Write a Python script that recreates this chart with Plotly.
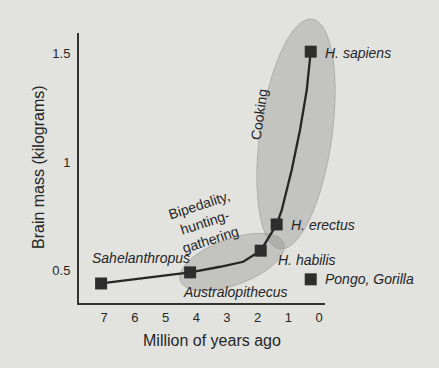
import numpy as np
import plotly.graph_objects as go

# ---- data ----
species = ["Sahelanthropus", "Australopithecus", "H. habilis", "H. erectus", "H. sapiens"]
species_mya = [7.1, 4.2, 1.9, 1.38, 0.27]
species_kg = [0.442, 0.493, 0.593, 0.714, 1.51]

ape_label = ["Pongo, Gorilla"]
ape_mya = [0.27]
ape_kg = [0.461]

# traced path of the connecting curve
path_mya = [7.1, 6.05, 4.2, 3.22, 2.47, 1.9, 1.38, 1.215, 0.89, 0.62, 0.40, 0.27]
path_kg = [0.442, 0.461, 0.493, 0.519, 0.542, 0.593, 0.714, 0.78, 0.965, 1.149, 1.333, 1.51]

x_ticks = [7, 6, 5, 4, 3, 2, 1, 0]
y_ticks = [0.5, 1, 1.5]
y_ticktext = ["0.5", "1", "1.5"]

# ---- layout geometry ----
W, H = 439, 368
ML, MR, MT, MB = 79, 114, 33, 65
XR = [7.82, -0.195]
YR = [0.352, 1.596]
PW, PH = W - ML - MR, H - MT - MB

def d2p(x, y):
    px = ML + (x - XR[0]) / (XR[1] - XR[0]) * PW
    py = MT + PH - (y - YR[0]) / (YR[1] - YR[0]) * PH
    return px, py

def p2d(px, py):
    x = XR[0] + (px - ML) / PW * (XR[1] - XR[0])
    y = YR[0] + (MT + PH - py) / PH * (YR[1] - YR[0])
    return x, y

def p2paper(px, py):
    return (px - ML) / PW, (MT + PH - py) / PH

def ellipse_path(cx, cy, a, b, ang):
    pcx, pcy = d2p(cx, cy)
    th = np.linspace(0, 2 * np.pi, 90)
    r = np.radians(ang)
    ex = a * np.cos(th)
    ey = b * np.sin(th)
    px = pcx + ex * np.cos(r) + ey * np.sin(r)
    py = pcy - ex * np.sin(r) + ey * np.cos(r)
    pts = [p2paper(u, v) for u, v in zip(px, py)]
    return "M " + " L ".join(f"{u:.5f},{v:.5f}" for u, v in pts) + " Z"

BG = "#e2e2df"
INK = "#262626"
FONT = "Liberation Sans, Arial, sans-serif"

fig = go.Figure()

fig.add_trace(go.Scatter(x=path_mya, y=path_kg, mode="lines",
                         line=dict(color=INK, width=2.3), hoverinfo="skip", showlegend=False))
fig.add_trace(go.Scatter(x=species_mya, y=species_kg, mode="markers", text=species,
                         marker=dict(symbol="square", size=12, color="#2e2e2e"), showlegend=False))
fig.add_trace(go.Scatter(x=ape_mya, y=ape_kg, mode="markers", text=ape_label,
                         marker=dict(symbol="square", size=12, color="#2e2e2e"), showlegend=False))

# grey ellipses (paper-referenced so the top of the "cooking" one is not clipped)
cook_c = p2d(296, 134)
bip_c = p2d(232, 262)
for (c, a, b, ang) in [(cook_c, 116, 36, 82), (bip_c, 55, 23, 20)]:
    fig.add_shape(type="path", path=ellipse_path(c[0], c[1], a, b, ang),
                  xref="paper", yref="paper", layer="below",
                  fillcolor="rgba(140,140,138,0.36)", line=dict(color="rgba(150,150,148,0.6)", width=1))

ann_font = dict(family=FONT, size=14, color=INK)
offs = {
    "Sahelanthropus": ("left", -11, 25),
    "Australopithecus": ("center", 45, -20),
    "H. habilis": ("left", 15, -9),
    "H. erectus": ("left", 12, -1),
    "H. sapiens": ("left", 12, -1),
}
for name, x, y in zip(species, species_mya, species_kg):
    xa, xs, ys = offs[name]
    fig.add_annotation(x=x, y=y, text=f"<i>{name}</i>", showarrow=False, xanchor=xa,
                       yanchor="middle", xshift=xs, yshift=ys, font=ann_font)
for name, x, y in zip(ape_label, ape_mya, ape_kg):
    fig.add_annotation(x=x, y=y, text=f"<i>{name}</i>", showarrow=False, xanchor="left",
                       yanchor="middle", xshift=12, yshift=0, font=ann_font)

ck = p2d(259, 115)
fig.add_annotation(x=ck[0], y=ck[1], text="Cooking", showarrow=False, textangle=-82,
                   xanchor="center", yanchor="middle", font=ann_font)
bp = p2d(205, 222)
fig.add_annotation(x=bp[0], y=bp[1], text="Bipedality,<br>hunting-<br>gathering", showarrow=False,
                   textangle=-18, xanchor="center", yanchor="middle", font=ann_font)

# axis titles
fig.add_annotation(xref="paper", yref="paper", x=(212 - ML) / PW, y=(MT + PH - 340) / PH,
                   xanchor="center", yanchor="middle",
                   text="Million of years ago", showarrow=False,
                   font=dict(family=FONT, size=16, color=INK))
fig.add_annotation(xref="paper", yref="paper", x=(38 - ML) / PW, y=(MT + PH - 167) / PH,
                   xanchor="center", yanchor="middle",
                   text="Brain mass (kilograms)", showarrow=False, textangle=-90,
                   font=dict(family=FONT, size=16, color=INK))

axis_common = dict(showgrid=False, zeroline=False, showline=True, linecolor="#333333",
                   linewidth=2, ticks="", tickfont=dict(family=FONT, size=13, color=INK))
fig.update_xaxes(range=XR, tickvals=x_ticks, ticklabelstandoff=1, **axis_common)
fig.update_yaxes(range=YR, tickvals=y_ticks, ticktext=y_ticktext, ticklabelstandoff=4, **axis_common)

fig.update_layout(width=W, height=H, autosize=False,
                  margin=dict(l=ML, r=MR, t=MT, b=MB, pad=0),
                  paper_bgcolor=BG, plot_bgcolor=BG,
                  font=dict(family=FONT, color=INK), hovermode="closest")

fig.write_html("out.html", config={"displayModeBar": False},
               post_script="document.body.style.margin='0';document.body.style.background='" + BG + "';")
